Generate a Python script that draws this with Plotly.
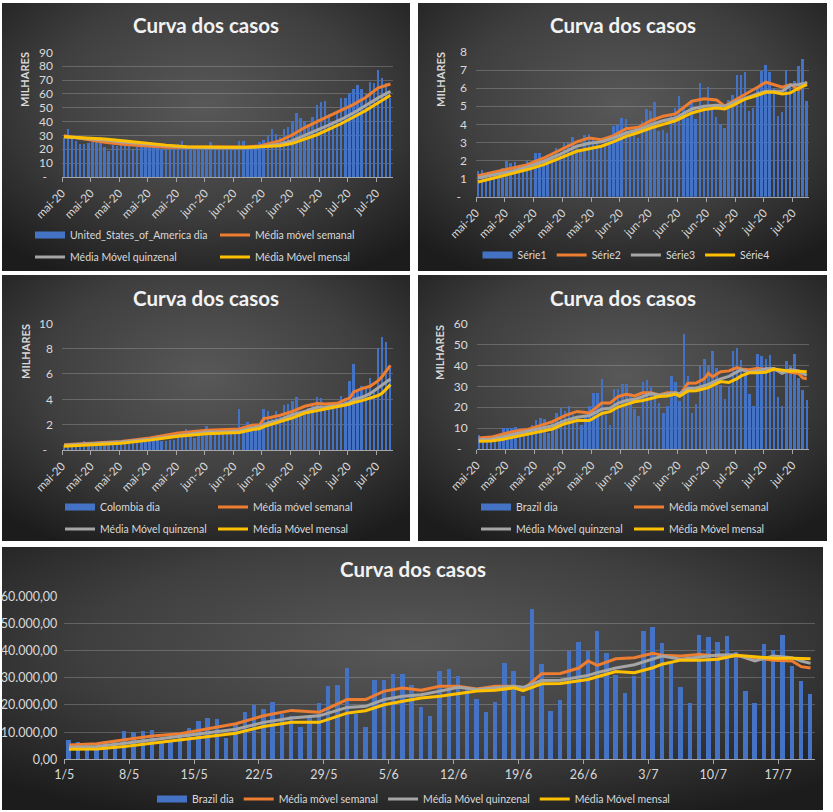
import base64
import plotly.graph_objects as go

W, H = 833, 812
AZUL, LARANJA, CINZA, AMARELO = "#4472C4", "#ED7D31", "#A5A5A5", "#FFC000"
TEXTO = "#d9d9d9"
FONTE = "Lato, Calibri, sans-serif"

# eixo de dias: 0 = 1/5/2020 ... 80 = 20/7/2020
dias = list(range(81))
tick_dias = [0, 7, 14, 21, 28, 35, 42, 49, 56, 63, 70, 77]
ticks_mes = ["mai-20", "mai-20", "mai-20", "mai-20", "mai-20", "jun-20",
             "jun-20", "jun-20", "jun-20", "jul-20", "jul-20", "jul-20"]
ticks_dia = ["1/5", "8/5", "15/5", "22/5", "29/5", "5/6", "12/6", "19/6",
             "26/6", "3/7", "10/7", "17/7"]

# --- Estados Unidos (casos por dia) ---
eua_dia = [29000, 34500, 27400, 25700, 23300, 23800, 24300, 25000, 28000, 29000,
           21400, 18600, 22600, 21900, 25000, 25000, 22600, 20200, 21400, 21900,
           23800, 23800, 23300, 21000, 20200, 19800, 21000, 21400, 23300, 25700,
           22600, 20200, 19500, 21400, 21900, 22400, 25000, 21900, 19500, 19000,
           21400, 21900, 22400, 25700, 25700, 20200, 20000, 22400, 25000, 26700,
           29800, 34500, 30500, 28600, 34500, 35700, 40000, 45700, 42400, 40500,
           38100, 42900, 51900, 53600, 54300, 45200, 40500, 46400, 57100, 57100,
           60700, 63100, 66200, 63100, 59500, 68600, 67900, 76700, 71400, 67900,
           57100]
eua_idx = [0, 5, 10, 15, 20, 25, 30, 35, 40, 45, 48, 50, 53, 56, 59, 62, 65, 68, 71, 74, 77, 80]
eua_semanal = [29800, 27400, 25000, 23500, 22400, 21400, 21400, 21400, 21400, 21900, 22400,
               23800, 26200, 30500, 35700, 40000, 44000, 48100, 52400, 57600, 64300, 67100]
eua_quinzenal = [29000, 28000, 26700, 25000, 23800, 22600, 21400, 21200, 21000, 21200, 21900,
                 22600, 23800, 26200, 29800, 33800, 37600, 41700, 46400, 51900, 57100, 61900]
eua_mensal = [29000, 28300, 27400, 26000, 24300, 23000, 21900, 21500, 21400, 21400, 21900,
              22200, 22600, 24300, 27400, 30500, 34500, 38600, 43300, 48100, 53600, 59000]

# --- Série1..4 ---
s1_dia = [1440, 1490, 1200, 1250, 1300, 1440, 1590, 1960, 1860, 1920,
          1770, 1680, 1960, 1860, 2420, 2420, 2050, 1960, 2360, 2690,
          2360, 2970, 2970, 3280, 2690, 2600, 3390, 3470, 3280, 3060,
          2880, 3030, 3150, 3890, 3950, 4350, 4320, 3340, 3470, 3250,
          4170, 4850, 4760, 5240, 3620, 3710, 3520, 4540, 4910, 5550,
          5000, 4350, 5370, 4320, 6290, 5000, 6050, 4940, 4390, 4020,
          3800, 5370, 5650, 6720, 6720, 6880, 4720, 4910, 6010, 6970,
          7270, 6900, 6010, 4450, 4690, 6990, 6050, 6380, 7210, 7620,
          5280]
s_idx = [0, 4, 8, 12, 16, 20, 24, 27, 30, 33, 36, 39, 42, 45, 48, 52, 55, 58, 60, 62,
         65, 68, 70, 72, 74, 76, 78, 80]
s2 = [1160, 1370, 1550, 1770, 2140, 2600, 3030, 3250, 3150, 3380, 3760, 3840, 4200, 4450,
      4580, 5280, 5420, 5350, 5000, 5280, 5650, 6050, 6330, 6200, 6050, 6200, 5920, 6350]
s3 = [1030, 1200, 1400, 1650, 1960, 2350, 2790, 2950, 3030, 3250, 3520, 3700, 3980, 4200,
      4350, 4850, 5000, 5060, 5000, 5180, 5460, 5700, 5830, 5850, 5830, 6160, 6200, 6290]
s4 = [810, 1030, 1250, 1500, 1770, 2150, 2510, 2650, 2790, 3050, 3340, 3550, 3800, 4000,
      4200, 4630, 4820, 4910, 4850, 5050, 5400, 5610, 5770, 5770, 5680, 5740, 6010, 6200]

# --- Colômbia ---
col_dia = [350, 300, 380, 340, 420, 680, 380, 450, 500, 420,
           470, 400, 520, 550, 550, 620, 480, 580, 620, 650,
           600, 780, 720, 1160, 680, 700, 800, 750, 1340, 1050,
           1600, 1100, 950, 1150, 1050, 1840, 1250, 1200, 1300, 1450,
           1500, 1550, 1450, 3240, 1870, 2200, 2050, 1750, 1850, 3240,
           3050, 2450, 3050, 2600, 3500, 3580, 3840, 4160, 2950, 3100,
           3300, 3450, 4180, 4100, 3400, 3630, 3600, 3750, 4240, 4100,
           5420, 6790, 4630, 5030, 4900, 5680, 4760, 8000, 8890, 8530,
           6470]
col_idx = [0, 7, 14, 21, 28, 35, 40, 43, 46, 48, 49, 50, 53, 56, 59, 62, 64, 67, 69, 70,
           71, 73, 75, 77, 78, 80]
col_semanal = [420, 550, 680, 950, 1340, 1550, 1600, 1660, 1950, 2000, 2500, 2530, 2740,
               3050, 3450, 3660, 3630, 3680, 3970, 4100, 4580, 4840, 5030, 5470, 5820, 6680]
col_quinzenal = [370, 500, 630, 850, 1160, 1420, 1450, 1500, 1740, 1850, 2000, 2130, 2390,
                 2790, 3050, 3370, 3400, 3500, 3650, 3750, 3970, 4160, 4450, 4900, 5100, 5600]
col_mensal = [290, 400, 530, 780, 1080, 1290, 1320, 1380, 1600, 1700, 1850, 1950, 2210,
              2530, 2920, 3100, 3200, 3370, 3550, 3630, 3750, 3900, 4100, 4300, 4500, 5160]

# --- Brasil ---
br_dia = [7000, 6200, 4600, 4100, 6600, 7100, 10400, 10100, 10400, 10800,
          6800, 6500, 8400, 11500, 14100, 15200, 14700, 7900, 13300, 17400,
          20000, 18500, 20800, 16400, 15800, 11700, 16200, 20700, 26800, 27200,
          33500, 16400, 11600, 29000, 29000, 31200, 31200, 27200, 19100, 15800,
          32300, 33100, 30400, 25700, 22000, 17200, 20900, 35300, 32300, 23100,
          55300, 34900, 17500, 21600, 39800, 43200, 39800, 47200, 39000, 30900,
          24200, 30500, 47200, 48600, 42700, 35500, 26400, 20500, 45700, 44900,
          43200, 45300, 39400, 24900, 20500, 42300, 40100, 45700, 34300, 28600,
          23800]
br_idx = [0, 3, 6, 9, 12, 15, 18, 21, 24, 27, 30, 32, 34, 36, 38, 40, 42, 44, 46, 48, 49,
          51, 53, 55, 56, 57, 59, 61, 63, 64, 66, 68, 70, 72, 74, 76, 78, 79, 80]
br_semanal = [5300, 5700, 7200, 8600, 9400, 11200, 13100, 16000, 18000, 17300, 22000, 22000,
              25100, 26200, 25400, 26900, 26900, 25900, 26900, 26900, 25700, 31500, 31600,
              33600, 36200, 34600, 37000, 37400, 39000, 38300, 38000, 38600, 38000, 38000,
              37400, 36500, 36200, 34100, 33600]
br_quinzenal = [4400, 4700, 5900, 7200, 8400, 9900, 11100, 13600, 15200, 16000, 19100, 19500,
                22000, 23200, 23800, 25100, 26500, 25700, 26300, 26900, 26500, 29000, 29100,
                30200, 30900, 31900, 33600, 34800, 36800, 38000, 36800, 37700, 38400, 38500,
                36200, 38000, 37400, 36200, 35300]
br_mensal = [3700, 3800, 4700, 5900, 7200, 8400, 9600, 12100, 13600, 13600, 17000, 17900,
             20100, 21400, 22600, 23200, 24100, 25100, 25400, 26300, 25300, 27800, 27900,
             28800, 29400, 30400, 32300, 31900, 33700, 35000, 36500, 36500, 36800, 38300,
             37700, 37200, 37200, 37000, 37000]

# rótulos do eixo y (unidade: milhares)
eua_yvals = [0, 10000, 20000, 30000, 40000, 50000, 60000, 70000, 80000, 90000]
eua_ytext = ["-\u00a0\u00a0", "10", "20", "30", "40", "50", "60", "70", "80", "90"]
s_yvals = [0, 1000, 2000, 3000, 4000, 5000, 6000, 7000, 8000]
s_ytext = ["-\u00a0\u00a0", "1", "2", "3", "4", "5", "6", "7", "8"]
col_yvals = [0, 2000, 4000, 6000, 8000, 10000]
col_ytext = ["-\u00a0\u00a0", "2", "4", "6", "8", "10"]
br_yvals = [0, 10000, 20000, 30000, 40000, 50000, 60000]
br_ytext = ["-\u00a0\u00a0", "10", "20", "30", "40", "50", "60"]
br_ytext_cheio = ["0,00", "10.000,00", "20.000,00", "30.000,00", "40.000,00",
                  "50.000,00", "60.000,00"]

nomes_medias = ["Média móvel semanal", "Média Móvel quinzenal", "Média Móvel mensal"]

# fundo escuro com gradiente radial (estilo Excel)
svg = ('<svg xmlns="http://www.w3.org/2000/svg" width="200" height="200" '
       'viewBox="0 0 200 200" preserveAspectRatio="none"><defs>'
       '<radialGradient id="g" cx="50%" cy="38%" r="72%">'
       '<stop offset="0" stop-color="#585858"/><stop offset="0.55" stop-color="#3f3f3f"/>'
       '<stop offset="1" stop-color="#1c1c1c"/></radialGradient></defs>'
       '<rect width="200" height="200" fill="url(#g)"/></svg>')
FUNDO = "data:image/svg+xml;base64," + base64.b64encode(svg.encode()).decode()

# legendas: (x px, y px, largura da entrada ou None, âncora, itens)
paineis = [
    dict(caixa=(2, 3, 410, 271), area=(62, 52.3, 392.5, 177), yr=90000,
         dia=eua_dia, idx=eua_idx, medias=(eua_semanal, eua_quinzenal, eua_mensal),
         nomes=["United_States_of_America dia"] + nomes_medias,
         yvals=eua_yvals, ytext=eua_ytext, xtext=ticks_mes, milhares=(25, 80),
         legendas=[(30, 235, 140, "left", [0, 1]), (30, 257, 140, "left", [2, 3])]),
    dict(caixa=(418, 3, 827, 271), area=(476, 52, 809, 196.7), yr=8000,
         dia=s1_dia, idx=s_idx, medias=(s2, s3, s4),
         nomes=["Série1", "Série2", "Série3", "Série4"],
         yvals=s_yvals, ytext=s_ytext, xtext=ticks_mes, milhares=(441, 80),
         legendas=[(626, 255, None, "center", [0, 1, 2, 3])]),
    dict(caixa=(2, 275, 410, 541), area=(62, 323.3, 392.5, 450), yr=10000,
         dia=col_dia, idx=col_idx, medias=(col_semanal, col_quinzenal, col_mensal),
         nomes=["Colombia dia"] + nomes_medias,
         yvals=col_yvals, ytext=col_ytext, xtext=ticks_mes, milhares=(25, 352),
         legendas=[(60, 507, 108, "left", [0, 1]), (60, 529, 108, "left", [2, 3])]),
    dict(caixa=(418, 275, 827, 541), area=(476.7, 323.7, 808.8, 449), yr=60000,
         dia=br_dia, idx=br_idx, medias=(br_semanal, br_quinzenal, br_mensal),
         nomes=["Brazil dia"] + nomes_medias,
         yvals=br_yvals, ytext=br_ytext, xtext=ticks_mes, milhares=(439, 352),
         legendas=[(476, 507, 108, "left", [0, 1]), (476, 529, 108, "left", [2, 3])]),
    dict(caixa=(2, 547, 823, 810), area=(64.3, 596.3, 815.2, 759.3), yr=60000,
         dia=br_dia, idx=br_idx, medias=(br_semanal, br_quinzenal, br_mensal),
         nomes=["Brazil dia"] + nomes_medias,
         yvals=br_yvals, ytext=br_ytext_cheio, xtext=ticks_dia, milhares=None,
         legendas=[(152, 799, None, "left", [0, 1, 2, 3])]),
]

fig = go.Figure()
layout = {}
imagens, anotacoes = [], []
n_leg = 0

for k, p in enumerate(paineis, start=1):
    sx = "" if k == 1 else str(k)
    xa, ya = "x" + sx, "y" + sx
    x0, y0, x1, y1 = p["caixa"]
    imagens.append(dict(source=FUNDO, xref="paper", yref="paper", x=x0 / W, y=1 - y0 / H,
                        sizex=(x1 - x0) / W, sizey=(y1 - y0) / H, xanchor="left",
                        yanchor="top", sizing="stretch", layer="below"))
    ax0, ay0, ax1, ay1 = p["area"]
    pequeno = p["milhares"] is not None
    layout["xaxis" + sx] = dict(
        domain=[ax0 / W, ax1 / W], anchor=ya, range=[-0.5, 80.5],
        tickvals=[d - 0.5 for d in tick_dias], ticktext=p["xtext"],
        tickangle=-45 if pequeno else 0, showgrid=False, zeroline=False,
        showline=True, linecolor="#a6a6a6", linewidth=1, ticks="outside",
        ticklen=4, tickcolor="#a6a6a6", fixedrange=True, automargin=False,
        tickfont=dict(family=FONTE, size=11.5 if pequeno else 12.5, color=TEXTO))
    layout["yaxis" + sx] = dict(
        domain=[1 - ay1 / H, 1 - ay0 / H], anchor=xa, range=[0, p["yr"]],
        tickvals=p["yvals"], ticktext=p["ytext"], showgrid=True,
        gridcolor="rgba(200,200,200,0.28)", gridwidth=1, zeroline=False,
        showline=False, ticks="", ticklabelstandoff=8 if pequeno else 6, fixedrange=True,
        automargin=False,
        tickfont=dict(family=FONTE, size=12 if pequeno else 12.5, color=TEXTO))

    # uma legenda por linha de itens
    leg_de = {}
    for (lx, ly, larg, ancora, itens) in p["legendas"]:
        n_leg += 1
        nome_leg = "legend" if n_leg == 1 else "legend" + str(n_leg)
        cfg = dict(orientation="h", x=lx / W, y=1 - ly / H, yanchor="middle",
                   xanchor=ancora, bgcolor="rgba(0,0,0,0)", borderwidth=0,
                   tracegroupgap=0, font=dict(family=FONTE, size=10.5, color=TEXTO))
        if larg:
            cfg.update(entrywidth=larg, entrywidthmode="pixels")
        layout[nome_leg] = cfg
        for i in itens:
            leg_de[i] = nome_leg

    fig.add_trace(go.Bar(x=dias, y=p["dia"], marker=dict(color=AZUL, line=dict(width=0)),
                         width=0.48, showlegend=False, xaxis=xa, yaxis=ya,
                         name=p["nomes"][0]))
    # entrada de legenda para as barras (retângulo largo, como no Excel)
    fig.add_trace(go.Scatter(x=[None], y=[None], mode="lines", name=p["nomes"][0],
                             line=dict(color=AZUL, width=7), legend=leg_de[0],
                             xaxis=xa, yaxis=ya))
    for j, (serie, cor) in enumerate(zip(p["medias"], [LARANJA, CINZA, AMARELO]), start=1):
        fig.add_trace(go.Scatter(x=p["idx"], y=serie, mode="lines", name=p["nomes"][j],
                                 line=dict(color=cor, width=3), legend=leg_de[j],
                                 xaxis=xa, yaxis=ya))

    cx = (x0 + x1) / 2
    ty = 25 if k in (1, 2) else (298 if k in (3, 4) else 569)
    anotacoes.append(dict(text="<b>Curva dos casos</b>", x=cx / W, y=1 - ty / H,
                          xref="paper", yref="paper", showarrow=False,
                          xanchor="center", yanchor="middle",
                          font=dict(family=FONTE, size=20.5, color="#f2f2f2")))
    if pequeno:
        mx, my = p["milhares"]
        anotacoes.append(dict(text="<b>MILHARES</b>", x=mx / W, y=1 - my / H,
                              xref="paper", yref="paper", showarrow=False, textangle=-90,
                              xanchor="center", yanchor="middle",
                              font=dict(family=FONTE, size=11, color=TEXTO)))

fig.update_layout(
    width=W, height=H, margin=dict(l=0, r=0, t=0, b=0, autoexpand=False),
    paper_bgcolor="white", plot_bgcolor="rgba(0,0,0,0)",
    bargap=0, images=imagens, annotations=anotacoes, **layout)

fig.write_html("out.html", config={"displayModeBar": False},
               post_script="document.body.style.margin='0';")
